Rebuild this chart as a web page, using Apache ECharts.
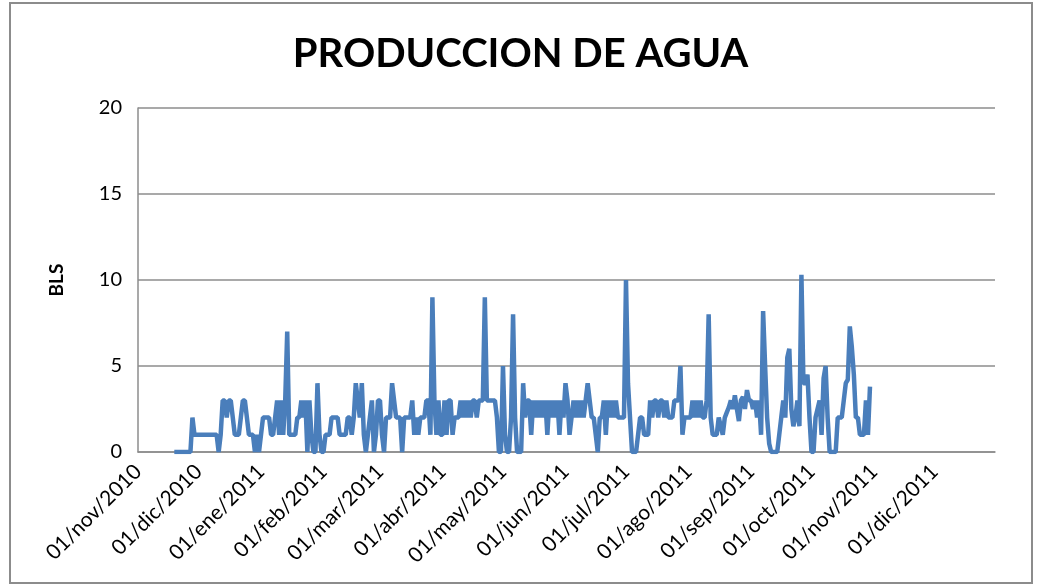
<!DOCTYPE html>
<html>
<head>
<meta charset="utf-8">
<script src="https://cdn.jsdelivr.net/npm/echarts@6/dist/echarts.min.js"></script>
<style>
    html, body { margin: 0; padding: 0; background: #fff; }
    #frame { position: absolute; left: 9px; top: 2px; width: 1024px; height: 582px; border: 2px solid #8c8c8c; box-sizing: border-box; }
    #main { position: absolute; left: 0; top: 0; width: 1041px; height: 588px; }
</style>
</head>
<body>
<div id="frame"></div>
<div id="main"></div>
<script>
    // meses para las etiquetas del eje
    const meses = ['ene', 'feb', 'mar', 'abr', 'may', 'jun', 'jul', 'ago', 'sep', 'oct', 'nov', 'dic'];

    // produccion diaria (BLS), un arreglo por mes
    const nov2010 = [null, null, null, null, null, null, null, null, null, null, null, null, null, null, null, null, null, null,
        0, 0, 0, 0, 0, 0, 0, 0, 0, 2, 1, 1];
    const dic2010 = [1, 1, 1, 1, 1, 1, 1, 1, 1, 1, 0, 1, 3, 3, 2, 3, 3, 2, 1, 1, 1, 2, 3, 3, 2, 1, 1, 1, 0, 1, 0];
    const ene2011 = [1, 2, 2, 2, 2, 1, 1, 2, 3, 1, 3, 1, 3, 7, 1, 1, 1, 1, 2, 2, 3, 2, 3, 0, 3, 1, 0, 0, 4, 1, 0];
    const feb2011 = [0, 1, 1, 1, 2, 2, 2, 2, 1, 1, 1, 1, 2, 2, 1, 2, 4, 3, 2, 4, 1, 0, 1, 2, 3, 0, 1, 3];
    const mar2011 = [3, 1, 0, 2, 2, 2, 4, 3, 2, 2, 2, 0, 2, 2, 2, 2, 3, 1, 2, 1, 2, 2, 2, 3, 3, 1, 9, 3, 1, 3, 1];
    const abr2011 = [1, 3, 1, 3, 3, 1, 2, 2, 2, 3, 2, 3, 2, 3, 2, 3, 3, 2, 3, 3, 3, 9, 3, 3, 3, 3, 3, 2, 0, 0];
    const may2011 = [5, 1, 0, 0, 2, 8, 2, 0, 0, 0, 4, 2, 3, 3, 1, 3, 2, 3, 2, 3, 2, 3, 1, 3, 2, 3, 2, 3, 1, 3, 2];
    const jun2011 = [4, 3, 1, 2, 3, 2, 3, 2, 3, 2, 3, 4, 3, 2, 2, 1, 0, 2, 2, 3, 1, 3, 2, 3, 2, 3, 2, 2, 2, 2];
    const jul2011 = [10, 4, 2, 0, 0, 0, 1, 2, 2, 1, 1, 1, 3, 2, 3, 3, 2, 3, 3, 2, 3, 2, 2, 2, 3, 3, 3, 5, 1, 2, 2];
    const ago2011 = [2, 2, 3, 2, 3, 2, 3, 2, 2, 3, 8, 2, 1, 1, 1, 2, 1.5, 1, 2, 2.3, 2.6, 3, 2.5, 3.3, 2.5, 1.8, 3, 3.2, 2.5, 3.6, 3];
    const sep2011 = [3, 2.5, 3, 2, 3, 1, 8.2, 5, 2, 0.5, 0, 0, 0, 0, 1, 2, 3, 2, 5.5, 6, 2.5, 1.5, 2, 3, 1.5, 10.3, 4, 4, 4.5, 2];
    const oct2011 = [0, 0, 2, 2.5, 3, 1, 4.3, 5, 2, 0, 0, 0, 0, 2, 2, 2, 3, 4, 4.2, 7.3, 6.1, 4.5, 2, 2, 1, 1, 1, 3, 1, 3.8, null];

    const valores = [].concat(nov2010, dic2010, ene2011, feb2011, mar2011, abr2011, may2011,
        jun2011, jul2011, ago2011, sep2011, oct2011);

    // un dia por categoria, del 01/nov/2010 al 31/dic/2011
    let fechas = [];
    let d = new Date(Date.UTC(2010, 10, 1));
    let fin = new Date(Date.UTC(2011, 11, 31));
    while (d <= fin) {
        let dd = String(d.getUTCDate()).padStart(2, '0');
        fechas.push(dd + '/' + meses[d.getUTCMonth()] + '/' + d.getUTCFullYear());
        d = new Date(d.getTime() + 86400000);
    }
    let datos = fechas.map((f, i) => i < valores.length ? valores[i] : null);

    let fuente = 'Lato, "Open Sans", sans-serif';
    let option = {
        animation: false,
        title: {
            text: 'PRODUCCION DE AGUA',
            left: 'center',
            top: 29,
            textStyle: { fontFamily: fuente, fontSize: 40, fontWeight: 'bold', color: '#000' }
        },
        grid: { left: 138, right: 46, top: 108, bottom: 136 },
        xAxis: {
            type: 'category',
            boundaryGap: false,
            data: fechas,
            axisLine: { lineStyle: { color: '#8c8c8c', width: 1.5 } },
            axisTick: { show: false },
            axisLabel: {
                interval: (i, v) => v.startsWith('01/'),
                rotate: 45,
                margin: 16,
                fontFamily: fuente,
                fontSize: 21,
                color: '#000'
            },
            splitLine: { show: false }
        },
        yAxis: {
            type: 'value',
            min: 0,
            max: 20,
            interval: 5,
            name: 'BLS',
            nameLocation: 'middle',
            nameRotate: 90,
            nameGap: 72,
            nameTextStyle: { fontFamily: fuente, fontSize: 19, fontWeight: 'bold', color: '#000' },
            axisLine: { show: true, lineStyle: { color: '#8c8c8c', width: 1.5 } },
            axisTick: { show: false },
            axisLabel: { fontFamily: fuente, fontSize: 20, color: '#000', margin: 16 },
            splitLine: { lineStyle: { color: '#8c8c8c', width: 1.5 } }
        },
        series: [{
            type: 'line',
            data: datos,
            showSymbol: false,
            connectNulls: false,
            lineStyle: { color: '#4a7ebb', width: 4.5 },
            itemStyle: { color: '#4a7ebb' }
        }]
    };
    let myChart = echarts.init(document.getElementById('main'));
    myChart.setOption(option);
</script>
</body>
</html>
